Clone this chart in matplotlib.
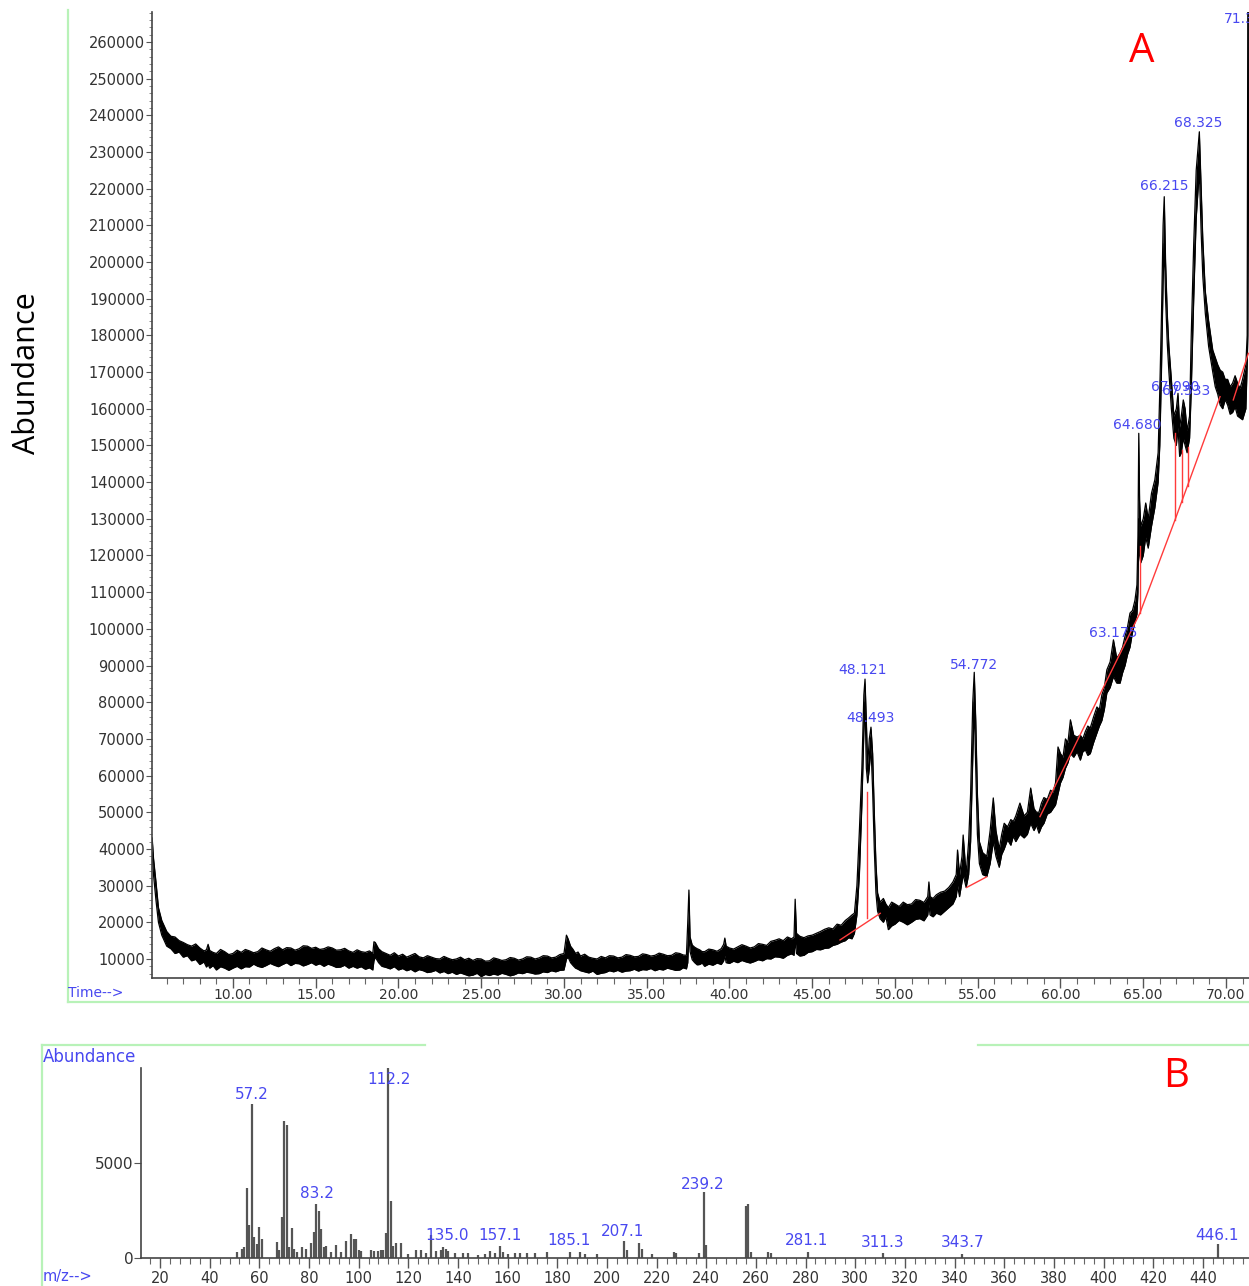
import matplotlib
matplotlib.use("Agg")
import matplotlib.pyplot as plt
from matplotlib.ticker import MultipleLocator, FormatStrFormatter
from matplotlib.lines import Line2D

# ---------------- Panel A: total ion chromatogram (noise band: low / high envelope) ------
rt = [5.12, 5.2, 5.35, 5.5, 5.7, 6.0, 6.25, 6.5, 6.75, 7.0,
      7.25, 7.5, 7.75, 8.0, 8.25, 8.4, 8.5, 8.6, 8.8, 9.0,
      9.25, 9.5, 9.75, 10.0, 10.25, 10.5, 10.75, 11.0, 11.25, 11.5,
      11.75, 12.0, 12.25, 12.5, 12.75, 13.0, 13.25, 13.5, 13.75, 14.0,
      14.25, 14.5, 14.75, 15.0, 15.25, 15.5, 15.75, 16.0, 16.25, 16.5,
      16.75, 17.0, 17.25, 17.5, 17.75, 18.0, 18.25, 18.45, 18.52, 18.6,
      18.8, 19.0, 19.25, 19.5, 19.75, 20.0, 20.25, 20.5, 20.75, 21.0,
      21.25, 21.5, 21.75, 22.0, 22.25, 22.5, 22.75, 23.0, 23.25, 23.5,
      23.75, 24.0, 24.25, 24.5, 24.75, 25.0, 25.25, 25.5, 25.75, 26.0,
      26.25, 26.5, 26.75, 27.0, 27.25, 27.5, 27.75, 28.0, 28.25, 28.5,
      28.75, 29.0, 29.25, 29.5, 29.75, 30.0, 30.15, 30.25, 30.4, 30.55,
      30.7, 30.85, 31.0, 31.25, 31.5, 31.75, 32.0, 32.25, 32.5, 32.75,
      33.0, 33.25, 33.5, 33.75, 34.0, 34.25, 34.5, 34.75, 35.0, 35.25,
      35.5, 35.75, 36.0, 36.25, 36.5, 36.75, 37.0, 37.2, 37.4, 37.48,
      37.55, 37.62, 37.75, 37.9, 38.05, 38.2, 38.35, 38.5, 38.75, 39.0,
      39.25, 39.5, 39.65, 39.72, 39.8, 40.0, 40.25, 40.5, 40.75, 41.0,
      41.25, 41.5, 41.75, 42.0, 42.25, 42.5, 42.75, 43.0, 43.25, 43.5,
      43.75, 43.9, 43.97, 44.05, 44.25, 44.5, 44.75, 45.0, 45.25, 45.5,
      45.75, 46.0, 46.25, 46.5, 46.75, 47.0, 47.2, 47.4, 47.55, 47.7,
      47.85, 48.0, 48.12, 48.19, 48.27, 48.35, 48.45, 48.55, 48.65, 48.75,
      48.85, 48.95, 49.1, 49.3, 49.45, 49.6, 49.8, 50.0, 50.25, 50.5,
      50.75, 51.0, 51.25, 51.5, 51.75, 51.98, 52.05, 52.12, 52.3, 52.5,
      52.75, 53.0, 53.25, 53.5, 53.7, 53.78, 53.9, 54.05, 54.12, 54.3,
      54.45, 54.57, 54.7, 54.79, 54.88, 54.98, 55.1, 55.3, 55.55, 55.75,
      55.94, 56.1, 56.3, 56.45, 56.6, 56.8, 57.0, 57.15, 57.3, 57.55,
      57.8, 58.0, 58.2, 58.4, 58.55, 58.7, 58.85, 59.0, 59.2, 59.4,
      59.55, 59.7, 59.85, 60.0, 60.15, 60.3, 60.45, 60.6, 60.8, 61.0,
      61.2, 61.35, 61.5, 61.65, 61.8, 62.0, 62.2, 62.35, 62.5, 62.65,
      62.8, 63.0, 63.2, 63.4, 63.6, 63.75, 63.9, 64.05, 64.2, 64.35,
      64.5, 64.62, 64.68, 64.73, 64.78, 64.85, 65.0, 65.15, 65.3, 65.5,
      65.7, 65.9, 66.0, 66.1, 66.2, 66.27, 66.35, 66.45, 66.55, 66.7,
      66.85, 67.0, 67.1, 67.2, 67.3, 67.42, 67.53, 67.65, 67.8, 67.9,
      68.05, 68.2, 68.39, 68.5, 68.6, 68.75, 68.95, 69.2, 69.35, 69.5,
      69.65, 69.8, 69.95, 70.1, 70.25, 70.4, 70.55, 70.7, 70.85, 71.0,
      71.2, 71.28, 71.32, 71.4]

abund_lo = [39000, 33000, 26000, 20000, 16500, 13500, 12800, 11500, 11900, 10500,
            10900, 9500, 9900, 8500, 9200, 7800, 8500, 7500, 8200, 7000,
            7900, 7500, 6900, 7500, 8000, 7300, 7900, 7800, 8600, 8000,
            7700, 8200, 8800, 8300, 7900, 8500, 9000, 8200, 8800, 8700,
            8100, 8500, 9000, 8300, 8700, 8000, 8600, 8200, 7700, 7800,
            8300, 7500, 8000, 7500, 7900, 7200, 7600, 7000, 9500, 10500,
            9000, 8000, 7700, 7300, 7900, 7000, 7400, 6800, 7200, 6500,
            7100, 6800, 6300, 6500, 6900, 6200, 6600, 6000, 6400, 5800,
            6200, 5800, 5400, 5600, 6100, 5200, 5800, 5500, 5900, 5600,
            6100, 5800, 5400, 5700, 6200, 6000, 6400, 6200, 5900, 6000,
            6500, 6300, 6800, 6500, 6900, 7000, 10000, 10500, 9000, 8200,
            7500, 7200, 6800, 6500, 6200, 6700, 5800, 6100, 6300, 6800,
            6500, 6900, 6400, 6700, 6800, 7200, 6700, 7100, 7000, 7400,
            6800, 7200, 7000, 7500, 7200, 6900, 7000, 7600, 7300, 9000,
            17000, 12000, 9800, 9000, 8400, 8500, 8900, 8000, 8600, 8300,
            8900, 8500, 9500, 11000, 9000, 8800, 9400, 9000, 9600, 9200,
            8900, 9300, 9800, 9500, 10100, 10000, 10600, 10500, 10200, 11000,
            11400, 11000, 15000, 11500, 10800, 11000, 11800, 12000, 12600, 12500,
            12900, 13000, 13700, 14000, 14600, 15000, 15800, 15500, 17000, 22000,
            33000, 52000, 72000, 80000, 62000, 58000, 62000, 68000, 56000, 40000,
            28000, 23000, 21000, 20000, 21500, 18000, 19000, 19500, 20500, 20000,
            19300, 20000, 20800, 21000, 20400, 22000, 25000, 22000, 21500, 22500,
            22000, 23000, 24000, 25000, 27000, 30000, 27000, 31000, 33000, 29500,
            33000, 42000, 65000, 80000, 62000, 44000, 36000, 33000, 32500, 36000,
            42000, 38000, 35000, 38500, 40000, 42500, 41000, 43500, 42000, 44000,
            43000, 44000, 47000, 45000, 46500, 44300, 46000, 47000, 49500, 50000,
            51000, 52000, 55000, 58000, 59500, 62000, 63500, 66000, 65000, 66500,
            64200, 66500, 67000, 65500, 66000, 69000, 71600, 73500, 75000, 78000,
            82500, 84000, 87000, 85200, 85200, 88000, 90000, 93000, 95000, 99000,
            102000, 104000, 110000, 130000, 120000, 118000, 120000, 125000, 122000, 128000,
            133000, 140000, 150000, 170000, 195000, 205000, 190000, 178000, 170000, 160000,
            152000, 150000, 155000, 147000, 148000, 152000, 150000, 148000, 152000, 165000,
            190000, 212000, 225000, 208000, 196000, 186000, 177000, 170000, 166000, 164000,
            161000, 160000, 162500, 161000, 158500, 159000, 160500, 158000, 157500, 157000,
            160000, 172000, 180000, 275000]

abund_hi = [43000, 37500, 31000, 24000, 20500, 17500, 16200, 16000, 15000, 14500,
            13900, 13500, 14100, 13000, 12200, 12500, 14000, 12300, 11800, 11500,
            12600, 12000, 11200, 11500, 12400, 11800, 12600, 12200, 11700, 12000,
            13000, 12500, 12100, 12800, 13300, 12500, 13100, 13000, 12400, 12800,
            13600, 13500, 12900, 13200, 12600, 12800, 13300, 13000, 12400, 12500,
            12900, 12200, 11800, 12500, 12000, 11800, 12200, 11500, 14700, 14500,
            12800, 12000, 11500, 11000, 11700, 10800, 11300, 10500, 11000, 11500,
            10600, 10300, 10900, 10500, 10100, 10000, 10700, 10200, 9800, 10000,
            10500, 9800, 10200, 9600, 10100, 10000, 9400, 9500, 10300, 10000,
            9600, 9800, 10400, 10200, 9700, 10000, 10600, 10500, 10000, 10300,
            10900, 10800, 10300, 10500, 11200, 11500, 16500, 15500, 13500, 12600,
            11500, 11900, 10800, 11300, 10500, 10200, 10000, 10700, 10300, 10900,
            10800, 10300, 10500, 11200, 11000, 10600, 10700, 11400, 11200, 10800,
            11000, 11600, 11300, 10900, 11000, 11700, 11500, 11100, 11000, 20000,
            28800, 16000, 13800, 13200, 12800, 12500, 12000, 12000, 12700, 12500,
            12100, 12800, 14000, 15700, 13500, 13000, 12700, 13300, 13900, 13500,
            13000, 13300, 14200, 14000, 13700, 14800, 15100, 15500, 15000, 16000,
            15500, 16000, 26300, 17000, 16200, 15800, 16300, 16500, 17000, 17500,
            18100, 18500, 18200, 19500, 19200, 20500, 21200, 22000, 22500, 30000,
            45000, 62000, 82000, 86300, 75000, 63000, 70000, 73200, 66000, 50000,
            36000, 28000, 25500, 26500, 25000, 24000, 25500, 25000, 24300, 25500,
            24800, 25000, 26200, 26000, 25400, 27000, 31000, 27000, 26500, 27500,
            28200, 28500, 29500, 31000, 33000, 39700, 33000, 38000, 43800, 33000,
            42000, 55000, 80000, 88150, 75000, 55000, 42000, 39000, 38000, 45000,
            53900, 45000, 40000, 44000, 47000, 46000, 48000, 47500, 49000, 52500,
            49000, 50000, 56600, 51000, 50000, 50000, 52500, 54000, 53500, 56000,
            55500, 58000, 67800, 66000, 65000, 70000, 69000, 75200, 71000, 70500,
            71000, 70000, 72000, 73500, 73000, 76000, 78700, 78000, 82000, 84000,
            88800, 91000, 97000, 92000, 93400, 95000, 98000, 100500, 104300, 105000,
            107800, 112000, 125000, 153300, 135000, 128000, 130000, 134300, 130000, 137000,
            140600, 148000, 165000, 185000, 210000, 217800, 200000, 186000, 177000, 168000,
            158000, 160000, 164200, 155000, 158000, 162400, 160000, 154000, 158000, 180000,
            205000, 225000, 235500, 220000, 206000, 192000, 184000, 176000, 174000, 172000,
            170500, 170000, 168000, 168000, 166000, 167000, 169000, 167000, 165500, 168000,
            172000, 180000, 275000, 275000]

assert len(rt) == len(abund_lo) == len(abund_hi)

# integration baselines (red): polylines of (time, abundance)
base_lines = [
    ([46.68, 49.11], [15200, 22450]),
    ([48.34, 48.34], [21100, 55600]),
    ([54.33, 55.54], [29500, 32400]),
    ([58.76, 64.80, 66.92, 69.64], [48800, 104300, 129700, 163300]),
    ([70.44, 71.35], [162400, 175100]),
    ([64.80, 64.80], [104300, 122600]),
    ([66.92, 66.92], [129700, 153300]),
    ([67.32, 67.32], [134700, 148700]),
    ([67.72, 67.72], [139000, 149600]),
]

pk_labels = ["48.121", "48.493", "54.772", "63.175", "64.680", "67.090",
             "67.533", "66.215", "68.325", "71.315"]
pk_t = [48.07, 48.55, 54.77, 63.17, 64.62, 66.92, 67.58, 66.25, 68.31, 69.88]
pk_v = [88800, 75700, 90100, 98900, 155600, 165900, 164800, 220700, 238000, 266200]
pk_ha = ["center"] * 9 + ["left"]

a_yticks = list(range(10000, 260001, 10000))
a_xticks = [10, 15, 20, 25, 30, 35, 40, 45, 50, 55, 60, 65, 70]

# ---------------- Panel B: mass spectrum ----------------
mz = [51, 53, 54, 55, 56, 57, 58, 59, 60, 61,
      67, 68, 69, 70, 71, 72, 73, 74, 75, 77,
      79, 81, 82, 83, 84, 85, 86, 87, 89, 91,
      93, 95, 97, 98, 99, 100, 101, 105, 106, 108,
      109, 110, 111, 112, 113, 114, 115, 117, 120, 123,
      125, 127, 129, 131, 133, 134, 135, 136, 139, 142,
      144, 148, 151, 153, 155, 157, 158, 160, 163, 165,
      168, 171, 176, 185, 189, 191, 196, 207, 208, 213,
      214, 218, 227, 228, 237, 239, 240, 256, 257, 258,
      265, 266, 281, 311, 343, 446]
intensity = [320, 500, 600, 3700, 1750, 8100, 1100, 750, 1650, 1000,
             850, 400, 2150, 7200, 7000, 600, 1600, 500, 300, 600,
             500, 800, 1350, 2850, 2500, 1550, 580, 620, 300, 670,
             300, 900, 1250, 1000, 1000, 400, 350, 400, 380, 350,
             400, 400, 1300, 10000, 3000, 650, 800, 800, 200, 400,
             400, 250, 1200, 350, 400, 600, 500, 350, 250, 250,
             250, 150, 200, 350, 250, 650, 300, 200, 250, 250,
             250, 250, 300, 300, 300, 200, 200, 900, 400, 800,
             450, 200, 300, 250, 250, 3450, 700, 2750, 2850, 300,
             300, 250, 320, 260, 230, 750]

ms_labels = ["57.2", "83.2", "112.2", "135.0", "157.1", "185.1", "207.1",
             "239.2", "281.1", "311.3", "343.7", "446.1"]
ms_lab_x = [57.05, 83.2, 112.2, 135.6, 156.9, 184.7, 206.5, 238.7, 280.6, 311.2, 343.4, 445.7]
ms_lab_y = [8580, 3420, 9420, 1210, 1210, 895, 1420, 3890, 895, 790, 790, 1210]

b_xticks = list(range(20, 441, 20))
b_yticks = [0, 5000]

# ---------------- drawing ----------------
W, H = 1249, 1286
fig = plt.figure(figsize=(W / 100, H / 100), dpi=100)


def fx(x):
    return x / W


def fy(y):
    return 1 - y / H


BLUE = "#4848f0"
GREEN = "#b8f2b8"
TICKC = "#333333"

# frames (light green)
for xs, ys in [((68, 68), (10, 1002)), ((68, 1249), (1002, 1002)),
               ((42, 425), (1045, 1045)), ((978, 1249), (1045, 1045)),
               ((42, 42), (1045, 1286))]:
    fig.add_artist(Line2D([fx(xs[0]), fx(xs[1])], [fy(ys[0]), fy(ys[1])],
                          color=GREEN, lw=1.6))

# ---- Panel A
axA = fig.add_axes([fx(152), fy(978), fx(1249) - fx(152), fy(12) - fy(978)])
axA.fill_between(rt, abund_lo, abund_hi, color="black", lw=0)
axA.plot(rt, abund_hi, color="black", lw=0.9)
axA.plot(rt, abund_lo, color="black", lw=0.9)
for xs, ys in base_lines:
    axA.plot(xs, ys, color="#ff3b3b", lw=1.0)
axA.set_xlim(5.11, 71.39)
axA.set_ylim(4820, 268150)
for s in ("top", "right"):
    axA.spines[s].set_visible(False)
for s in ("left", "bottom"):
    axA.spines[s].set_color("#444444")
    axA.spines[s].set_linewidth(1.2)
axA.set_yticks(a_yticks)
axA.yaxis.set_major_formatter(FormatStrFormatter("%d"))
axA.yaxis.set_minor_locator(MultipleLocator(2000))
axA.set_xticks(a_xticks)
axA.xaxis.set_major_formatter(FormatStrFormatter("%.2f"))
axA.xaxis.set_minor_locator(MultipleLocator(1))
axA.tick_params(axis="y", which="major", length=4.5, width=0.8, pad=0.5,
                labelsize=10.5, labelcolor=TICKC, color="#555555")
axA.tick_params(axis="y", which="minor", length=2, width=0.6, color="#777777")
axA.tick_params(axis="x", which="major", length=7, width=1.0, pad=0.5,
                labelsize=10, labelcolor=TICKC, color="#555555")
axA.tick_params(axis="x", which="minor", length=4, width=0.8, color="#666666")
for lab, t, v, ha in zip(pk_labels, pk_t, pk_v, pk_ha):
    axA.text(t, v, lab, color=BLUE, fontsize=10, ha=ha, va="center", clip_on=False)
axA.text(64.92, 257250, "A", color="red", fontsize=29, family="Open Sans",
         ha="center", va="center")

fig.text(fx(68), fy(993), "Time-->", color=BLUE, fontsize=10, ha="left", va="center")
fig.text(fx(27), fy(373), "Abundance", color="black", fontsize=22, family="Open Sans",
         rotation=90, ha="center", va="center")

# ---- Panel B
axB = fig.add_axes([fx(141), fy(1258), fx(1249) - fx(141), fy(1068) - fy(1258)])
axB.vlines(mz, 0, intensity, color="#555555", lw=1.6)
axB.set_xlim(12.35, 458.6)
axB.set_ylim(0, 10000)
for s in ("top", "right"):
    axB.spines[s].set_visible(False)
for s in ("left", "bottom"):
    axB.spines[s].set_color("#444444")
    axB.spines[s].set_linewidth(1.2)
axB.set_yticks(b_yticks)
axB.set_xticks(b_xticks)
axB.xaxis.set_minor_locator(MultipleLocator(4))
axB.tick_params(axis="y", which="major", length=5, width=0.8, pad=0.5,
                labelsize=11, labelcolor=TICKC, color="#555555")
axB.tick_params(axis="x", which="major", length=7, width=1.0, pad=2.5,
                labelsize=10.5, labelcolor=TICKC, color="#555555")
axB.tick_params(axis="x", which="minor", length=4, width=0.8, color="#666666")
for lab, x, y in zip(ms_labels, ms_lab_x, ms_lab_y):
    axB.text(x, y, lab, color=BLUE, fontsize=11, ha="center", va="center", clip_on=False)
axB.text(429.2, 9526, "B", color="red", fontsize=29, family="Open Sans",
         ha="center", va="center", clip_on=False)

fig.text(fx(43), fy(1057), "Abundance", color=BLUE, fontsize=12, ha="left", va="center")
fig.text(fx(43), fy(1277), "m/z-->", color=BLUE, fontsize=10.5, ha="left", va="center")

fig.savefig("out.png", dpi=100)
